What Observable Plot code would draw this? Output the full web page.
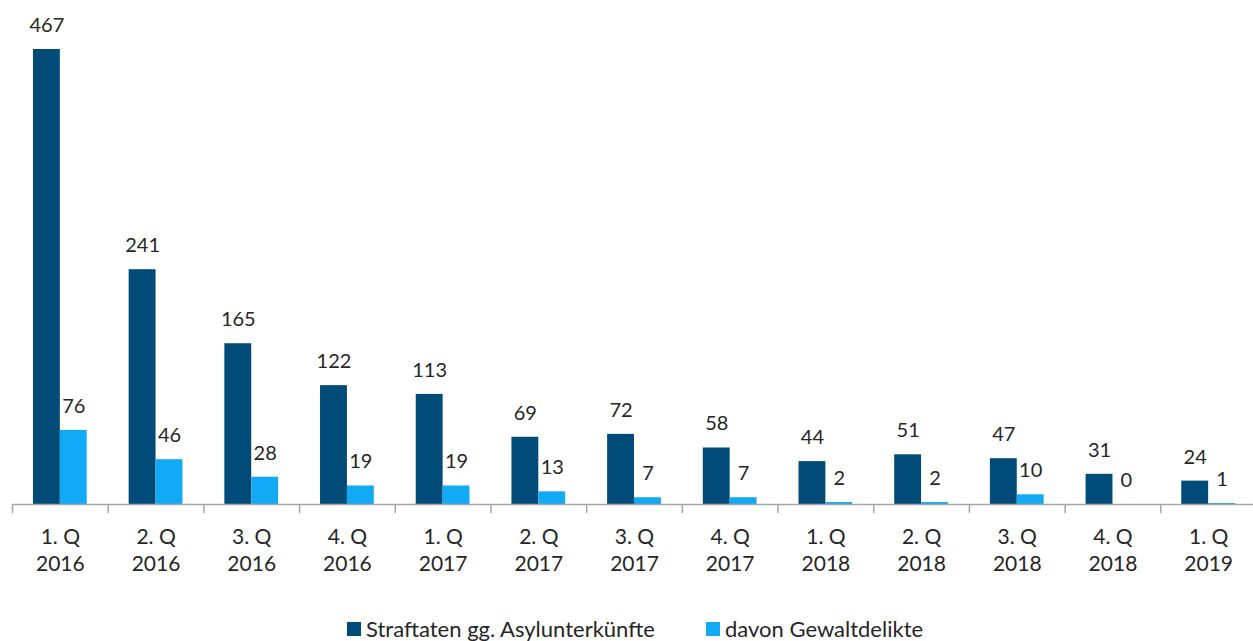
<!DOCTYPE html>
<html>
<head>
<meta charset="utf-8">
<script src="https://cdn.jsdelivr.net/npm/d3@7"></script>
<script src="https://cdn.jsdelivr.net/npm/@observablehq/plot@0.6"></script>
<style>
  html, body { margin: 0; padding: 0; background: #fff; }
  body { width: 1253px; height: 641px; overflow: hidden; font-family: Lato, "Open Sans", sans-serif; }
  #legend { position: relative; height: 51px; font-size: 22px; color: #262626; }
  .item { position: absolute; top: 27px; display: flex; align-items: center; line-height: 24px; }
  .sw { width: 14px; height: 14px; margin-right: 5px; }
</style>
</head>
<body>
<div id="chart"></div>
<div id="legend"></div>
<script>
const quarters = ["1. Q 2016","2. Q 2016","3. Q 2016","4. Q 2016","1. Q 2017","2. Q 2017","3. Q 2017","4. Q 2017","1. Q 2018","2. Q 2018","3. Q 2018","4. Q 2018","1. Q 2019"];
const series = ["Straftaten gg. Asylunterkünfte", "davon Gewaltdelikte"];
const straftaten = [467,241,165,122,113,69,72,58,44,51,47,31,24];
const gewalt = [76,46,28,19,19,13,7,7,2,2,10,0,1];
const colors = ["#004b78", "#13aaf5"];

const rows = [];
quarters.forEach((q, i) => {
  rows.push({q, s: series[0], v: straftaten[i]});
  rows.push({q, s: series[1], v: gewalt[i]});
});

const W = 1253, ML = 12, MR = -3;
const step = (W - ML - MR) / quarters.length;

const chart = Plot.plot({
  width: W,
  height: 590,
  marginLeft: ML,
  marginRight: MR,
  marginTop: 49,
  marginBottom: 86,
  style: {fontFamily: "Lato, 'Open Sans', sans-serif", background: "#fff", overflow: "hidden"},
  fx: {domain: quarters, padding: 0, round: false, label: null},
  x: {domain: series, paddingInner: 0, paddingOuter: 0.78, round: false, axis: null},
  y: {domain: [0, 467], axis: null},
  color: {domain: series, range: colors},
  marks: [
    Plot.barY(rows, {fx: "q", x: "s", y: "v", fill: "s"}),
    Plot.text(rows, {fx: "q", x: "s", y: "v", text: d => String(d.v), dy: -24, fontSize: 20, fill: "#262626"}),
    Plot.ruleY([0], {stroke: "#a6a6a6", strokeWidth: 1.5}),
    Plot.axisFx({anchor: "bottom", tickSize: 9, stroke: "#a6a6a6", strokeWidth: 1.5, tickFormat: () => "", dx: -step / 2, label: null}),
    Plot.axisFx({anchor: "bottom", tickSize: 0, tickPadding: 20, fontSize: 21, lineHeight: 1.3, fill: "#262626",
      tickFormat: d => d.replace(" 20", "\n20"), label: null})
  ]
});
document.getElementById("chart").appendChild(chart);

const legend = document.getElementById("legend");
const lefts = [347, 706];
series.forEach((s, i) => {
  const it = document.createElement("div");
  it.className = "item";
  it.style.left = lefts[i] + "px";
  const sw = document.createElement("span");
  sw.className = "sw";
  sw.style.background = colors[i];
  const t = document.createElement("span");
  t.textContent = s;
  it.appendChild(sw);
  it.appendChild(t);
  legend.appendChild(it);
});
</script>
</body>
</html>
